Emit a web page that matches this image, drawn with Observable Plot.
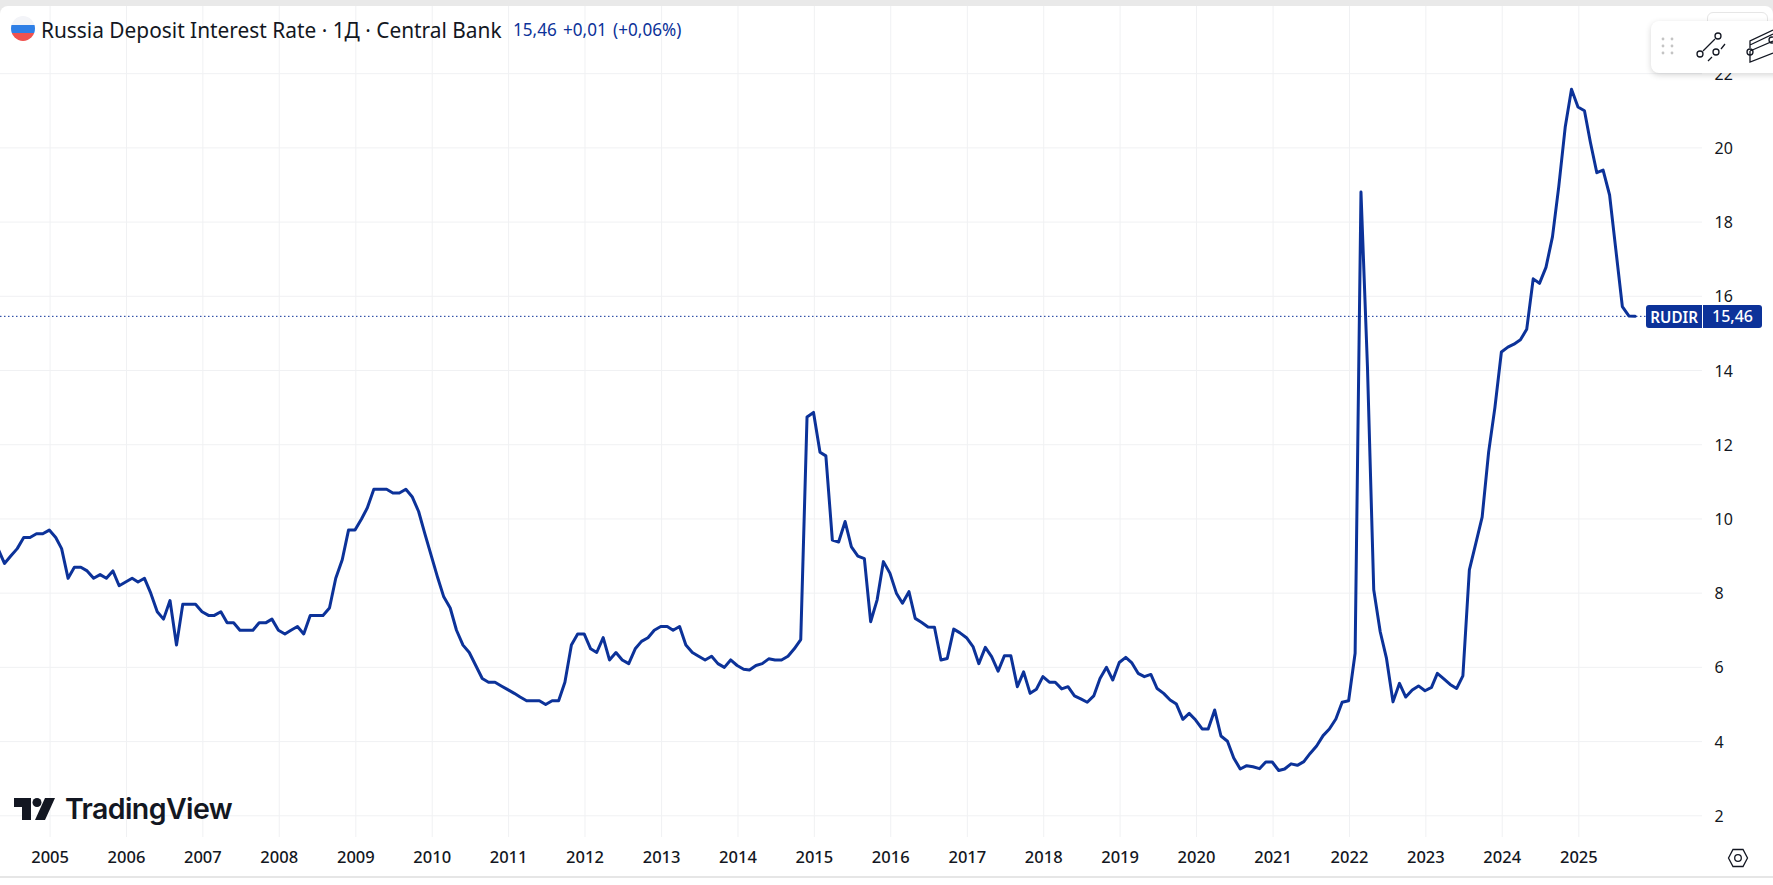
<!DOCTYPE html>
<html><head><meta charset="utf-8">
<script src="https://cdn.jsdelivr.net/npm/d3@7"></script>
<script src="https://cdn.jsdelivr.net/npm/@observablehq/plot@0.6"></script>
<style>
html,body{margin:0;padding:0;background:#e9e9e9;overflow:hidden}
body{width:1773px;height:885px;position:relative;font-family:"Noto Sans",sans-serif}
#chart svg{display:block;clip-path:inset(6px 0 0 0 round 8px 8px 0 0)}
.abs{position:absolute;white-space:nowrap}
</style></head><body>
<div id="chart"></div>
<div class="abs" style="left:0;top:876px;width:1773px;height:9px;background:#fff;border-top:2px solid #e6e6e6;box-sizing:border-box"></div>
<svg class="abs" style="left:11px;top:16px" width="24" height="25" viewBox="0 0 24 25"><defs><clipPath id="c"><ellipse cx="12" cy="12.5" rx="12" ry="12.5"/></clipPath></defs><g clip-path="url(#c)"><rect width="24" height="9" fill="#f3f4f8"/><rect y="9" width="24" height="8" fill="#2f7fe6"/><rect y="17" width="24" height="8" fill="#f0524f"/></g></svg>
<div class="abs" id="title" style="left:41px;top:15px;font-size:22px;line-height:28px;color:#131722;transform-origin:0 0;transform:scaleX(.948)">Russia Deposit Interest Rate · 1Д · Central Bank</div>
<div class="abs" id="vals" style="left:513px;top:17px;font-size:18px;line-height:24px;color:#0c3299;word-spacing:2px;transform-origin:0 0;transform:scaleX(.95)">15,46 +0,01 (+0,06%)</div>
<div class="abs" style="left:1707px;top:12px;width:59px;height:30px;border:1px solid #e6e6e6;border-radius:6px;background:#fff"></div>
<div class="abs" style="left:1651px;top:21px;width:140px;height:52px;background:#fff;border-radius:8px;box-shadow:0 2px 6px rgba(0,0,0,.16)"></div>
<svg class="abs" style="left:1651px;top:21px" width="122" height="52" viewBox="0 0 122 52" fill="none" stroke="#131722" stroke-width="1.3">
<g fill="#c4c4c4" stroke="none"><circle cx="12" cy="18" r="1.4"/><circle cx="21" cy="18" r="1.4"/><circle cx="12" cy="25" r="1.4"/><circle cx="21" cy="25" r="1.4"/><circle cx="12" cy="32" r="1.4"/><circle cx="21" cy="32" r="1.4"/></g>
<path d="M52 30L64 18M57 40L61 36M70 28L74 23"/><circle cx="49" cy="33" r="3"/><circle cx="67" cy="15" r="3"/><circle cx="65" cy="31" r="3"/>
<path d="M99 30V41L122 32M99 24L122 13M99 30L122 20M99 27V20L122 9"/><circle cx="99" cy="31" r="3"/><circle cx="121" cy="19" r="3"/>
</svg>
<div class="abs" style="left:1646px;top:305px;width:56px;height:23px;background:#0c3299;border-radius:3px 0 0 3px;color:#fff;font-size:16px;font-weight:600;line-height:25px;text-align:center"><span style="display:inline-block;transform:scaleX(.95)">RUDIR</span></div>
<div class="abs" style="left:1703px;top:305px;width:59px;height:23px;background:#0c3299;border-radius:0 3px 3px 0;color:#fff;font-size:16px;font-weight:500;line-height:22px;text-align:center">15,46</div>
<svg class="abs" style="left:14px;top:798px" width="42" height="23" viewBox="0 0 42 23" fill="#131722"><path d="M0 0H17V22H8V9H0Z"/><circle cx="23" cy="4.5" r="4.5"/><path d="M31 0H41L31 22H21Z"/></svg>
<div class="abs" style="left:65px;top:790px;font-family:Inter,sans-serif;font-size:28.5px;font-weight:600;letter-spacing:-.6px;line-height:38px;color:#131722">TradingView</div>
<svg class="abs" style="left:1727px;top:848px" width="22" height="20" viewBox="0 0 22 20" fill="none" stroke="#131722" stroke-width="1.3"><path d="M1.5 10L6 1.5H16L20.5 10L16 18.5H6Z"/><circle cx="11" cy="10" r="3.3"/></svg>
<script>
// Russia Deposit Interest Rate, monthly values
const firstMonth = "2004-05-01";
const values2004 = [9.2, 8.8, 9.0, 9.2, 9.5, 9.5, 9.6, 9.6];
const values2005 = [9.7, 9.5, 9.2, 8.4, 8.7, 8.7, 8.6, 8.4, 8.5, 8.4, 8.6, 8.2];
const values2006 = [8.3, 8.4, 8.3, 8.4, 8.0, 7.5, 7.3, 7.8, 6.6, 7.7, 7.7, 7.7];
const values2007 = [7.5, 7.4, 7.4, 7.5, 7.2, 7.2, 7.0, 7.0, 7.0, 7.2, 7.2, 7.3];
const values2008 = [7.0, 6.9, 7.0, 7.1, 6.9, 7.4, 7.4, 7.4, 7.6, 8.4, 8.9, 9.7];
const values2009 = [9.7, 10.0, 10.3, 10.8, 10.8, 10.8, 10.7, 10.7, 10.8, 10.6, 10.2, 9.6];
const values2010 = [9.0, 8.4, 7.9, 7.6, 7.0, 6.6, 6.4, 6.05, 5.7, 5.6, 5.6, 5.5];
const values2011 = [5.4, 5.3, 5.2, 5.1, 5.1, 5.1, 5.0, 5.1, 5.1, 5.6, 6.6, 6.9];
const values2012 = [6.9, 6.5, 6.4, 6.8, 6.2, 6.4, 6.2, 6.1, 6.5, 6.7, 6.8, 7.0];
const values2013 = [7.1, 7.1, 7.0, 7.1, 6.6, 6.4, 6.3, 6.2, 6.3, 6.1, 6.0, 6.2];
const values2014 = [6.05, 5.95, 5.93, 6.05, 6.1, 6.23, 6.2, 6.2, 6.3, 6.5, 6.75, 12.75];
const values2015 = [12.87, 11.8, 11.7, 9.43, 9.38, 9.93, 9.25, 9.0, 8.93, 7.23, 7.82, 8.85];
const values2016 = [8.54, 8.0, 7.73, 8.04, 7.32, 7.21, 7.09, 7.08, 6.2, 6.24, 7.03, 6.93];
const values2017 = [6.8, 6.56, 6.1, 6.54, 6.29, 5.9, 6.31, 6.31, 5.48, 5.88, 5.3, 5.41];
const values2018 = [5.75, 5.6, 5.6, 5.42, 5.48, 5.23, 5.15, 5.06, 5.23, 5.7, 6.0, 5.66];
const values2019 = [6.13, 6.27, 6.13, 5.84, 5.75, 5.81, 5.43, 5.3, 5.12, 5.01, 4.6, 4.76];
const values2020 = [4.58, 4.34, 4.34, 4.85, 4.15, 4.01, 3.56, 3.26, 3.35, 3.32, 3.27, 3.45];
const values2021 = [3.45, 3.22, 3.26, 3.4, 3.36, 3.46, 3.68, 3.88, 4.16, 4.34, 4.61, 5.06];
const values2022 = [5.1, 6.38, 18.81, 14.1, 8.09, 6.96, 6.24, 5.07, 5.57, 5.2, 5.39, 5.5];
const values2023 = [5.37, 5.46, 5.84, 5.69, 5.54, 5.43, 5.77, 8.63, 9.35, 10.05, 11.8, 13.0];
const values2024 = [14.5, 14.63, 14.71, 14.83, 15.11, 16.47, 16.35, 16.78, 17.6, 18.95, 20.56, 21.58];
const values2025 = [21.1, 21.0, 20.16, 19.33, 19.4, 18.73, 17.25, 15.72, 15.47, 15.46];
const lastValue = 15.46;
const yTicks = [2, 4, 6, 8, 10, 12, 14, 16, 18, 20, 22];
const yearTicks = [2005,2006,2007,2008,2009,2010,2011,2012,2013,2014,2015,2016,2017,2018,2019,2020,2021,2022,2023,2024,2025];

const rates = [values2004,values2005,values2006,values2007,values2008,values2009,values2010,values2011,values2012,values2013,values2014,values2015,values2016,values2017,values2018,values2019,values2020,values2021,values2022,values2023,values2024,values2025].flat();
const start = new Date(firstMonth);
// the source's monthly bars sit a few days before the month's first tick
const table = rates.map((v, i) => ({date: d3.utcDay.offset(d3.utcMonth.offset(start, i), -4), value: v}));
const yearDates = yearTicks.map(y => new Date(Date.UTC(y, 0, 1)));

const ink = "#131722", grid = "#f0f1f3", blue = "#0c3299";
const chart = Plot.plot({
  width: 1773, height: 885,
  marginLeft: 0, marginRight: 71, marginTop: 6, marginBottom: 48,
  style: {background: "#fff", fontFamily: '"Noto Sans", sans-serif', overflow: "hidden"},
  x: {type: "utc", domain: [new Date("2004-05-09"), new Date("2026-08-15")]},
  y: {domain: [1.415, 23.81]},
  marks: [
    Plot.ruleX(yearDates, {stroke: grid, strokeWidth: 1}),
    Plot.ruleY(yTicks, {stroke: grid, strokeWidth: 1}),
    Plot.ruleY([lastValue], {stroke: blue, strokeWidth: 1, strokeDasharray: "1.5 2.5"}),
    Plot.lineY(table, {x: "date", y: "value", stroke: blue, strokeWidth: 3, clip: true}),
    Plot.axisX({ticks: yearDates, tickFormat: d3.utcFormat("%Y"), tickSize: 0, tickPadding: 13.5, fontSize: 16.5, fontWeight: 500, fill: ink, color: ink, label: null}),
    Plot.axisY({anchor: "right", ticks: yTicks, tickSize: 0, tickPadding: 12, dy: 1, fontSize: 16, fill: ink, label: null})
  ]
});
document.getElementById("chart").append(chart);
</script>
</body></html>
